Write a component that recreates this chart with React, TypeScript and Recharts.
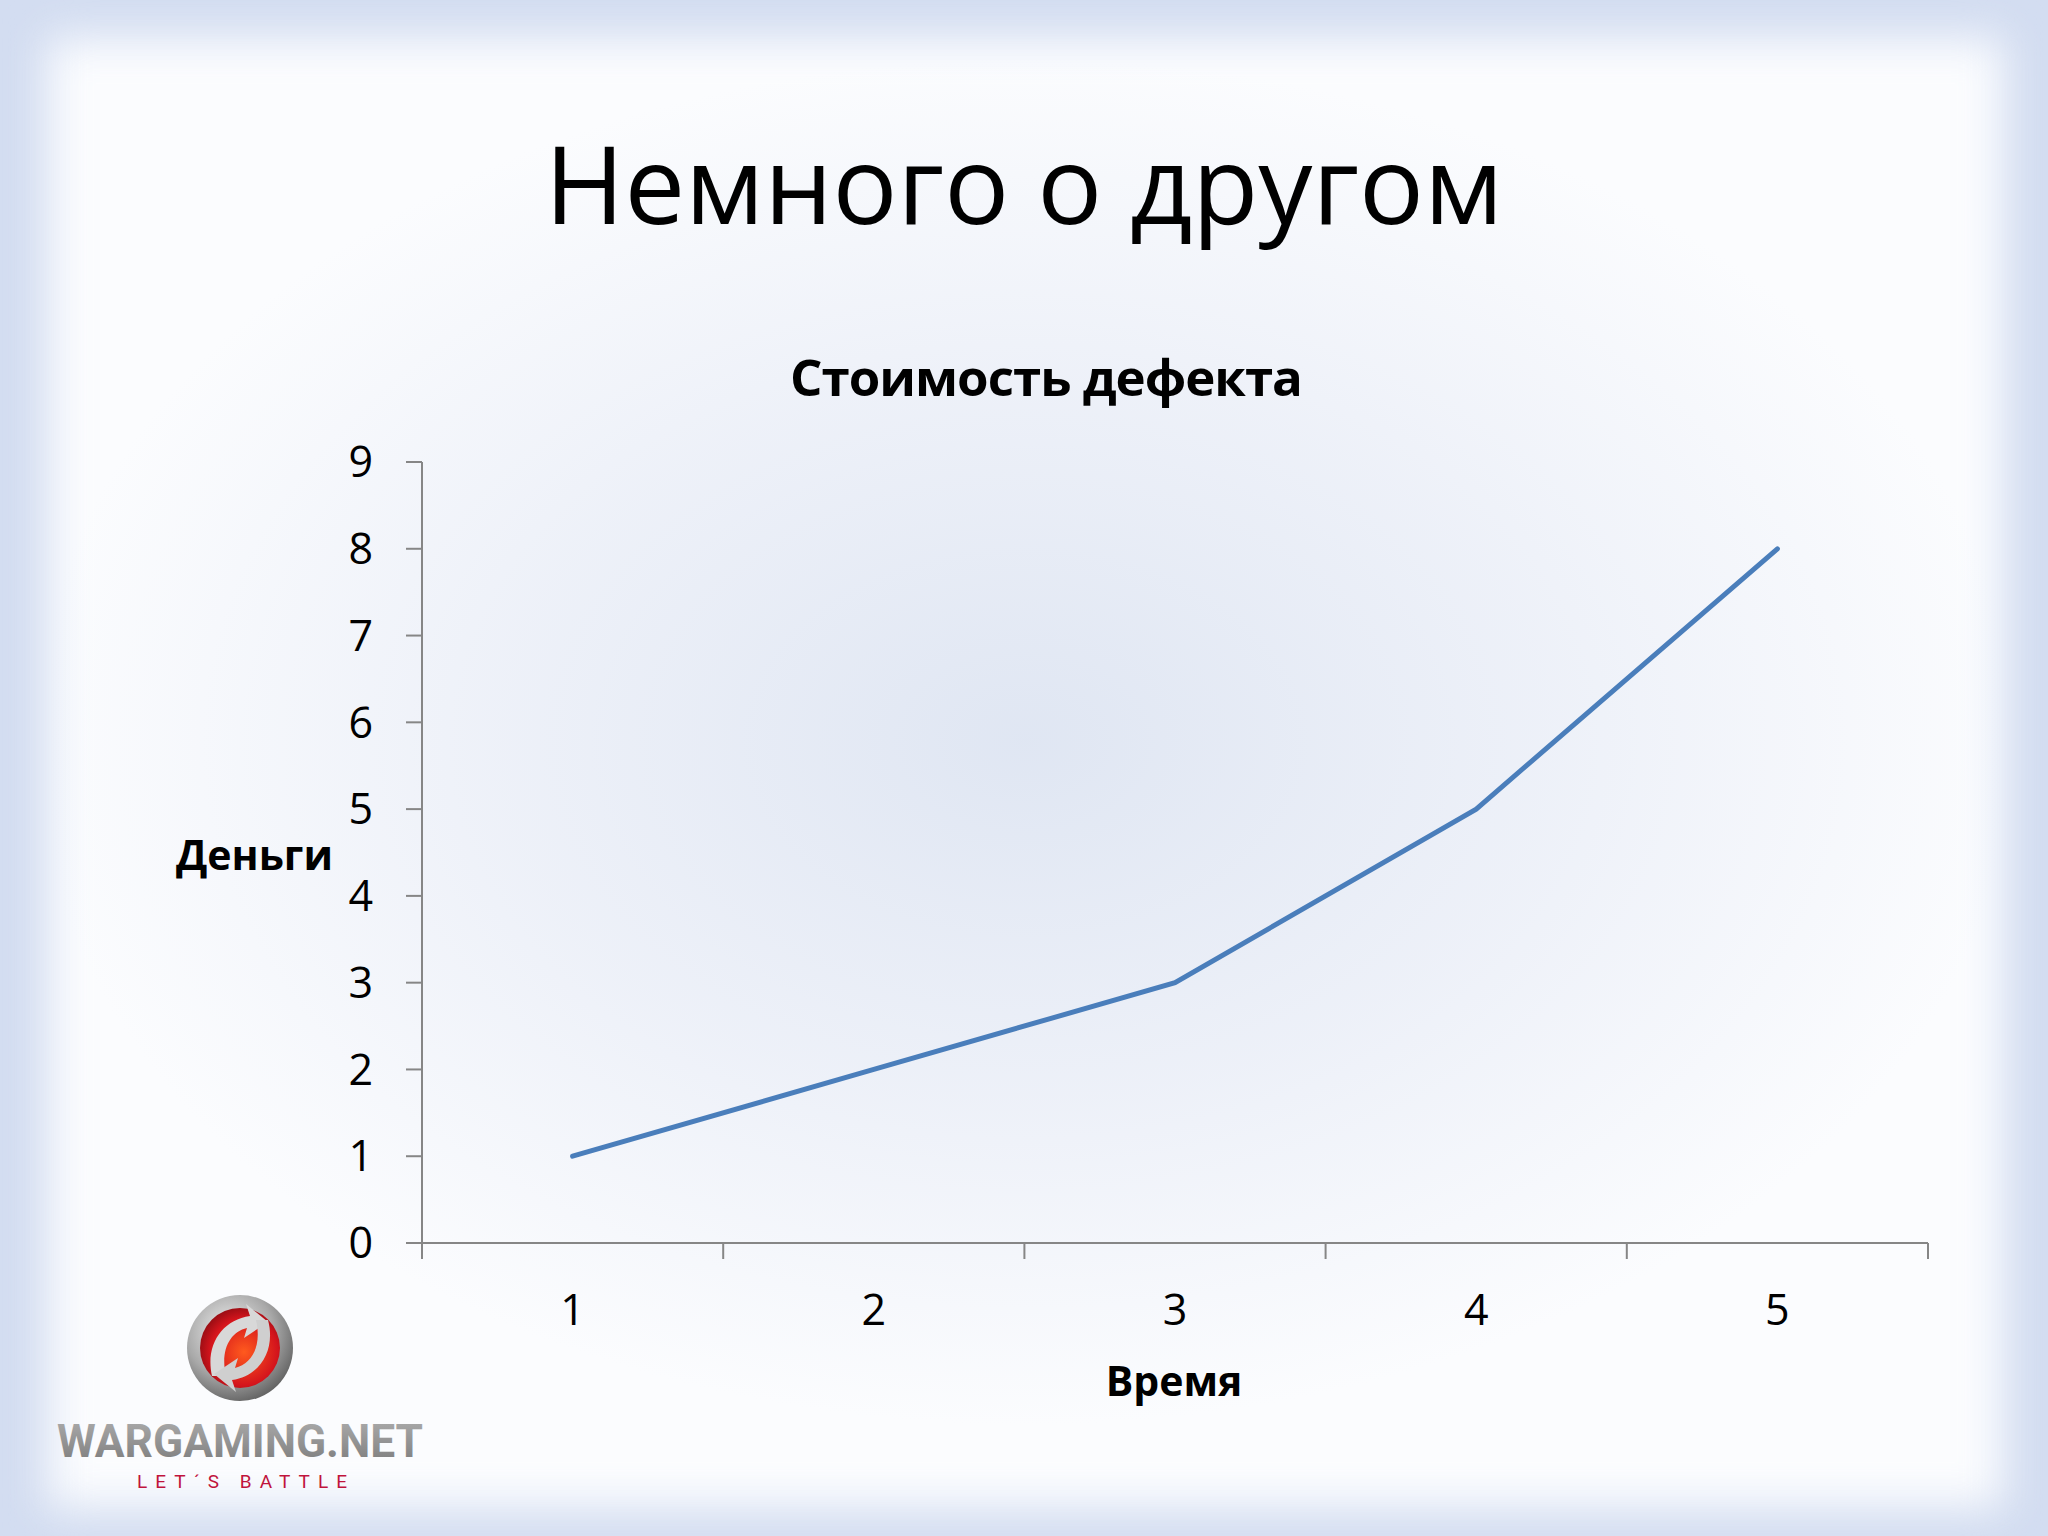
import { LineChart, Line, XAxis, YAxis } from "recharts";

// values
const times = [1, 2, 3, 4, 5];
const costs = [1, 2, 3, 5, 8];
const yTicks = [0, 1, 2, 3, 4, 5, 6, 7, 8, 9];

const slideTitle = "Немного о другом";
const chartTitle = "Стоимость дефекта";
const yTitle = "Деньги";
const xTitle = "Время";

const data = times.map((t, i) => ({ t, cost: costs[i] }));
// Excel-style category axis: tick marks between categories, labels on centres
const xTicks = [...times.map((t) => t - 0.5), times[times.length - 1] + 0.5, ...times];

const AXIS = "#868686";
const FONT = "'Open Sans', 'Noto Sans', sans-serif";

function XTick({ x, y, payload }: { x: number; y: number; payload: { value: number } }) {
  const v = payload.value;
  if (Number.isInteger(v)) {
    return (
      <text x={x} y={y + 82} textAnchor="middle" fontSize={43} fontFamily={FONT} fill="#000">
        {v}
      </text>
    );
  }
  return <line x1={x} y1={y} x2={x} y2={y + 16} stroke={AXIS} strokeWidth={2} />;
}

function Logo() {
  return (
    <svg width={480} height={220} style={{ position: "absolute", left: 0, top: 1290 }}>
      <defs>
        <radialGradient id="ring" cx="40%" cy="35%" r="70%">
          <stop offset="0%" stopColor="#f2f2f2" />
          <stop offset="60%" stopColor="#a8a8a8" />
          <stop offset="100%" stopColor="#5e5e5e" />
        </radialGradient>
        <radialGradient id="core" cx="55%" cy="55%" r="60%">
          <stop offset="0%" stopColor="#ff5a1e" />
          <stop offset="70%" stopColor="#d4141c" />
          <stop offset="100%" stopColor="#8e0c12" />
        </radialGradient>
        <linearGradient id="word" x1="0" y1="0" x2="0" y2="1">
          <stop offset="0%" stopColor="#b0b0b0" />
          <stop offset="100%" stopColor="#7a7a7a" />
        </linearGradient>
      </defs>
      <circle cx={240} cy={58} r={53} fill="url(#ring)" />
      <circle cx={240} cy={58} r={40} fill="url(#core)" />
      <path d="M212 86 C205 55 222 30 250 26 L246 14 L268 32 L244 48 L247 38 C230 42 220 60 226 86 Z" fill="#d8d8d8" />
      <path d="M268 30 C276 60 260 86 232 90 L236 102 L214 84 L238 68 L235 78 C252 74 262 56 256 30 Z" fill="#cfcfcf" />
      <text x={57} y={167} fontSize={47} fontWeight={700} fontFamily="'Roboto', 'Liberation Sans', sans-serif" fill="url(#word)" textLength={366} lengthAdjust="spacingAndGlyphs">
        WARGAMING.NET
      </text>
      <text x={137} y={198} fontSize={19} fontFamily="'Roboto', sans-serif" fill="#c0143c" textLength={210} lengthAdjust="spacing">
        LET´S BATTLE
      </text>
    </svg>
  );
}

export default function App() {
  return (
    <div style={{ position: "absolute", left: 0, top: 0, width: 2048, height: 1536, background: "#d3ddf1", overflow: "hidden" }}>
      <div
        style={{
          position: "absolute",
          left: 48,
          top: 38,
          width: 1955,
          height: 1470,
          background: "#fbfcfe",
          filter: "blur(22px)",
        }}
      />
      <div
        style={{
          position: "absolute",
          left: 50,
          top: 40,
          width: 1950,
          height: 1462,
          background: "radial-gradient(ellipse 60% 55% at 50% 48%, rgba(222,229,242,0.95) 0%, rgba(234,238,247,0.8) 45%, rgba(248,249,252,0) 85%)",
        }}
      />
      <div style={{ position: "absolute", left: 0, width: 2048, top: 118, textAlign: "center", fontFamily: FONT, fontSize: 108, lineHeight: "130px", color: "#000" }}>
        {slideTitle}
      </div>
      <div style={{ position: "absolute", left: 546, width: 1000, top: 341, textAlign: "center", fontFamily: FONT, fontWeight: 700, fontSize: 51, lineHeight: "70px", color: "#000", letterSpacing: -1 }}>
        {chartTitle}
      </div>
      <div style={{ position: "absolute", left: 176, top: 824, fontFamily: FONT, fontWeight: 700, fontSize: 41, lineHeight: "60px", color: "#000" }}>
        {yTitle}
      </div>
      <div style={{ position: "absolute", left: 974, width: 400, top: 1350, textAlign: "center", fontFamily: FONT, fontWeight: 700, fontSize: 41, lineHeight: "60px", color: "#000" }}>
        {xTitle}
      </div>
      <div style={{ position: "absolute", left: 0, top: 0 }}>
        <LineChart width={2048} height={1536} data={data} margin={{ top: 462, right: 120, left: 322, bottom: 193 }}>
          <XAxis
            dataKey="t"
            type="number"
            domain={[0.5, 5.5]}
            ticks={xTicks}
            interval={0}
            height={100}
            tickSize={0}
            tickMargin={0}
            tickLine={false}
            axisLine={{ stroke: AXIS, strokeWidth: 2 }}
            tick={(p: any) => <XTick {...p} />}
          />
          <YAxis
            domain={[0, 9]}
            ticks={yTicks}
            interval={0}
            width={100}
            tickSize={16}
            tickMargin={33}
            axisLine={{ stroke: AXIS, strokeWidth: 2 }}
            tickLine={{ stroke: AXIS, strokeWidth: 2 }}
            tick={{ fontSize: 43, fontFamily: FONT, fill: "#000" }}
          />
          <Line
            type="linear"
            dataKey="cost"
            stroke="#4a7ebb"
            strokeWidth={5}
            strokeLinecap="round"
            dot={false}
            activeDot={false}
            isAnimationActive={false}
          />
        </LineChart>
      </div>
      <Logo />
    </div>
  );
}
